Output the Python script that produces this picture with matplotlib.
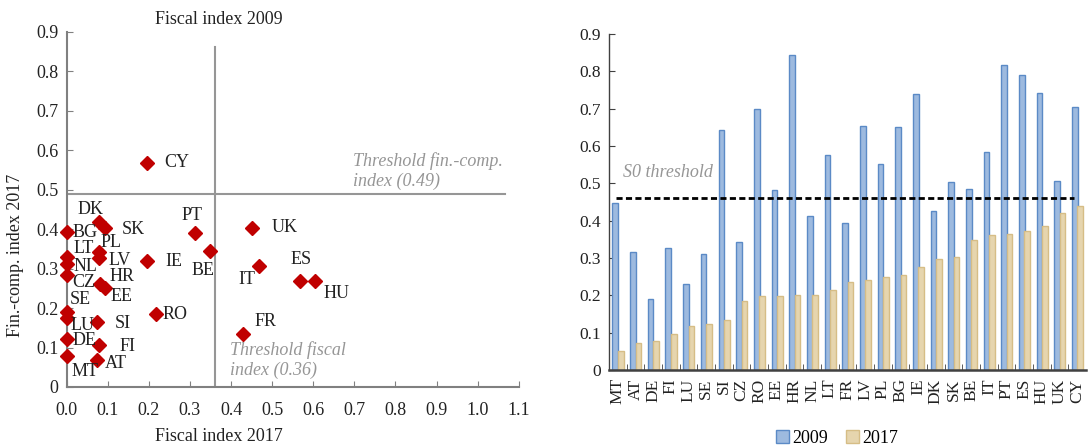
#!/usr/bin/env python3
import matplotlib
matplotlib.use('Agg')
import matplotlib.pyplot as plt
from matplotlib.ticker import FuncFormatter, FixedLocator
import numpy as np

# scatter: fiscal vs fin.-comp. index, 2017
countries = ['CY', 'DK', 'SK', 'BG', 'PL', 'LT', 'LV', 'NL', 'CZ', 'HR', 'EE',
             'IE', 'SE', 'LU', 'SI', 'RO', 'DE', 'FI', 'MT', 'AT',
             'PT', 'BE', 'UK', 'IT', 'ES', 'HU', 'FR']
fiscal_2017 = [0.195, 0.079, 0.093, 0.0, 0.079, 0.0, 0.079, 0.0, 0.0, 0.081, 0.093,
               0.195, 0.0, 0.0, 0.073, 0.217, 0.0, 0.079, 0.0, 0.073,
               0.312, 0.349, 0.45, 0.468, 0.568, 0.604, 0.43]
fincomp_2017 = [0.568, 0.417, 0.404, 0.392, 0.343, 0.33, 0.326, 0.311, 0.284, 0.261, 0.25,
                0.32, 0.191, 0.174, 0.164, 0.184, 0.122, 0.106, 0.079, 0.068,
                0.389, 0.344, 0.403, 0.307, 0.269, 0.269, 0.134]
fiscal_threshold = 0.36
fincomp_threshold = 0.49

# bars: S0 index 2009 vs 2017
bar_countries = ['MT', 'AT', 'DE', 'FI', 'LU', 'SE', 'SI', 'CZ', 'RO', 'EE', 'HR', 'NL',
                 'LT', 'FR', 'LV', 'PL', 'BG', 'IE', 'DK', 'SK', 'BE', 'IT', 'PT', 'ES',
                 'HU', 'UK', 'CY']
s0_2009 = [0.448, 0.315, 0.189, 0.327, 0.231, 0.311, 0.643, 0.344, 0.699, 0.481, 0.844, 0.412,
           0.577, 0.394, 0.654, 0.552, 0.652, 0.739, 0.425, 0.504, 0.484, 0.583, 0.817, 0.791,
           0.743, 0.507, 0.705]
s0_2017 = [0.051, 0.071, 0.079, 0.097, 0.117, 0.124, 0.133, 0.186, 0.197, 0.199, 0.2, 0.202,
           0.214, 0.236, 0.242, 0.249, 0.255, 0.277, 0.298, 0.304, 0.347, 0.362, 0.364, 0.373,
           0.386, 0.421, 0.44]
s0_threshold = 0.462

# where each country label sits relative to its marker (pixels)
label_offsets = {
    'CY': (30, 0), 'DK': (-9, 13), 'SK': (28, -2), 'BG': (18, 0), 'PL': (12, 9),
    'LT': (17, 8), 'LV': (21, -2), 'NL': (19, -2), 'CZ': (17, -8), 'HR': (22, 7),
    'EE': (17, -8), 'IE': (27, -1), 'SE': (14, 12), 'LU': (16, -7), 'SI': (26, -1),
    'RO': (19, 0), 'DE': (18, -2), 'FI': (28, -1), 'MT': (18, -16), 'AT': (19, -3),
    'PT': (-3, 18), 'BE': (-7, -19), 'UK': (33, 0), 'IT': (-12, -14), 'ES': (1, 21),
    'HU': (22, -13), 'FR': (22, 13),
}

plt.rcParams['font.family'] = ['Liberation Serif', 'DejaVu Serif']
plt.rcParams['font.size'] = 13

GREY = '#969696'
TEXT = '#222222'


def tick_fmt(v, pos):
    return '0' if abs(v) < 1e-9 else '%.1f' % v


def main():
    fig = plt.figure(figsize=(10.88, 4.48), dpi=100)

    # ---- left: scatter ----
    ax = fig.add_axes([0.0613, 0.1362, 0.4155, 0.793])
    ax.set_xlim(0, 1.1)
    ax.set_ylim(0, 0.9)
    for s in ['top', 'right']:
        ax.spines[s].set_visible(False)
    for s in ['left', 'bottom']:
        ax.spines[s].set_color('#808080')
        ax.spines[s].set_linewidth(1.5)
    ax.set_xticks(np.arange(0, 1.11, 0.1))
    ax.set_yticks(np.arange(0, 0.91, 0.1))
    ax.xaxis.set_major_formatter(FuncFormatter(lambda v, p: '%.1f' % v))
    ax.yaxis.set_major_formatter(FuncFormatter(tick_fmt))
    ax.tick_params(direction='in', length=4, color='#808080', labelsize=13,
                   labelcolor=TEXT)
    ax.tick_params(axis='x', pad=11)
    ax.tick_params(axis='y', pad=6)

    ax.plot([fiscal_threshold, fiscal_threshold], [0, 0.862], color=GREY, lw=1.5)
    ax.plot([0, 1.067], [fincomp_threshold, fincomp_threshold], color=GREY, lw=1.5)

    ax.plot(fiscal_2017, fincomp_2017, 'D', color='#C00000', ms=7, clip_on=False,
            zorder=3)
    for c, x, y in zip(countries, fiscal_2017, fincomp_2017):
        dx, dy = label_offsets[c]
        ax.annotate(c, (x, y), xytext=(dx, dy), textcoords='offset pixels',
                    ha='center', va='center', fontsize=13, color=TEXT)

    ax.text(0.697, 0.547, 'Threshold fin.-comp.\nindex (0.49)', style='italic',
            color=GREY, fontsize=13, ha='left', va='center', linespacing=1.2)
    ax.text(0.398, 0.067, 'Threshold fiscal\nindex (0.36)', style='italic',
            color=GREY, fontsize=13, ha='left', va='center', linespacing=1.2)

    fig.text(219 / 1088, 1 - 19 / 448, 'Fiscal index 2009', ha='center',
             va='center', fontsize=13, color=TEXT)
    fig.text(219 / 1088, 1 - 436 / 448, 'Fiscal index 2017', ha='center',
             va='center', fontsize=13, color=TEXT)
    fig.text(16 / 1088, 1 - 255 / 448, 'Fin.-comp. index 2017', rotation=90,
             ha='center', va='center', fontsize=13, color=TEXT)

    # ---- right: bars ----
    bx = fig.add_axes([0.5597, 0.1741, 0.4385, 0.75])
    pos = np.arange(len(bar_countries))
    bx.bar(pos - 0.14, s0_2009, width=0.32, color='#9DBADF', edgecolor='#5B8AC6',
           lw=1.0, label='2009', zorder=2)
    bx.bar(pos + 0.17, s0_2017, width=0.33, color='#E6D5AE', edgecolor='#D6BD86',
           lw=1.0, label='2017', zorder=2)
    bx.axhline(s0_threshold, xmin=0.015, xmax=0.975, color='black', lw=2,
               ls=(0, (2.2, 1.2)), zorder=3)
    bx.text(0.3, 0.53, 'S0 threshold', style='italic', color=GREY, fontsize=13,
            ha='left', va='center')

    bx.set_xlim(-0.5, len(bar_countries) - 0.5)
    bx.set_ylim(0, 0.9)
    bx.set_yticks(np.arange(0, 0.91, 0.1))
    bx.yaxis.set_major_formatter(FuncFormatter(tick_fmt))
    bx.set_xticks(pos)
    bx.set_xticklabels(bar_countries, rotation=90)
    bx.xaxis.set_minor_locator(FixedLocator(pos[:-1] + 0.5))
    bx.tick_params(axis='x', which='major', length=0, pad=6, labelsize=12.5,
                   labelcolor=TEXT)
    bx.tick_params(axis='x', which='minor', direction='in', length=4,
                   color='#404040')
    bx.tick_params(axis='y', direction='in', length=4, color='#404040',
                   labelsize=12.5, labelcolor=TEXT, pad=6)
    for s in ['top', 'right']:
        bx.spines[s].set_visible(False)
    bx.spines['left'].set_color('#404040')
    bx.spines['left'].set_linewidth(1.0)
    bx.spines['bottom'].set_color('#404040')
    bx.spines['bottom'].set_linewidth(1.8)

    fig.legend(*bx.get_legend_handles_labels(), loc='center',
               bbox_to_anchor=(837 / 1088, 1 - 438 / 448), ncol=2, frameon=False,
               handlelength=0.7, handleheight=0.7, handletextpad=0.2,
               columnspacing=1.0, fontsize=13, borderpad=0)

    fig.savefig('out.png', dpi=100)


if __name__ == '__main__':
    main()
